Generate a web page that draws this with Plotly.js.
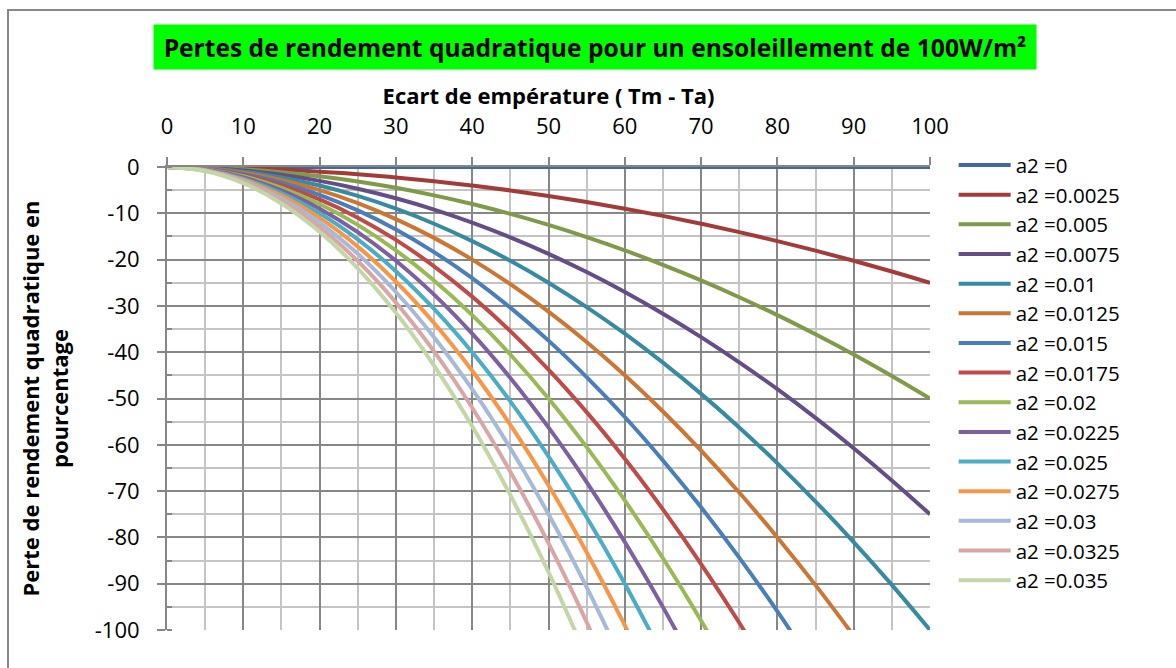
<!DOCTYPE html>
<html>
<head>
<meta charset="utf-8">
<script src="https://cdn.plot.ly/plotly-3.0.1.min.js"></script>
<style>html,body{margin:0;padding:0;background:#fff;}#chart{width:1176px;height:668px;}</style>
</head>
<body>
<div id="chart"></div>
<script>
// Ecart de température (Tm - Ta)
const ecart = [0,5,10,15,20,25,30,35,40,45,50,55,60,65,70,75,80,85,90,95,100];

// Perte de rendement (%) for each a2 value
const a2_0      = [0,0,0,0,0,0,0,0,0,0,0,0,0,0,0,0,0,0,0,0,0];
const a2_0025   = [0,-0.06,-0.25,-0.56,-1,-1.56,-2.25,-3.06,-4,-5.06,-6.25,-7.56,-9,-10.56,-12.25,-14.06,-16,-18.06,-20.25,-22.56,-25];
const a2_005    = [0,-0.13,-0.5,-1.13,-2,-3.13,-4.5,-6.13,-8,-10.13,-12.5,-15.13,-18,-21.13,-24.5,-28.13,-32,-36.13,-40.5,-45.13,-50];
const a2_0075   = [0,-0.19,-0.75,-1.69,-3,-4.69,-6.75,-9.19,-12,-15.19,-18.75,-22.69,-27,-31.69,-36.75,-42.19,-48,-54.19,-60.75,-67.69,-75];
const a2_01     = [0,-0.25,-1,-2.25,-4,-6.25,-9,-12.25,-16,-20.25,-25,-30.25,-36,-42.25,-49,-56.25,-64,-72.25,-81,-90.25,-100];
const a2_0125   = [0,-0.31,-1.25,-2.81,-5,-7.81,-11.25,-15.31,-20,-25.31,-31.25,-37.81,-45,-52.81,-61.25,-70.31,-80,-90.31,-101.25];
const a2_015    = [0,-0.38,-1.5,-3.38,-6,-9.38,-13.5,-18.38,-24,-30.38,-37.5,-45.38,-54,-63.38,-73.5,-84.38,-96,-108.38];
const a2_0175   = [0,-0.44,-1.75,-3.94,-7,-10.94,-15.75,-21.44,-28,-35.44,-43.75,-52.94,-63,-73.94,-85.75,-98.44,-112];
const a2_02     = [0,-0.5,-2,-4.5,-8,-12.5,-18,-24.5,-32,-40.5,-50,-60.5,-72,-84.5,-98,-112.5];
const a2_0225   = [0,-0.56,-2.25,-5.06,-9,-14.06,-20.25,-27.56,-36,-45.56,-56.25,-68.06,-81,-95.06,-110.25];
const a2_025    = [0,-0.63,-2.5,-5.63,-10,-15.63,-22.5,-30.63,-40,-50.63,-62.5,-75.63,-90,-105.63];
const a2_0275   = [0,-0.69,-2.75,-6.19,-11,-17.19,-24.75,-33.69,-44,-55.69,-68.75,-83.19,-99,-116.19];
const a2_03     = [0,-0.75,-3,-6.75,-12,-18.75,-27,-36.75,-48,-60.75,-75,-90.75,-108];
const a2_0325   = [0,-0.81,-3.25,-7.31,-13,-20.31,-29.25,-39.81,-52,-65.81,-81.25,-98.31,-117];
const a2_035    = [0,-0.88,-3.5,-7.88,-14,-21.88,-31.5,-42.88,-56,-70.88,-87.5,-105.88];

const seriesNames = ["a2 =0","a2 =0.0025","a2 =0.005","a2 =0.0075","a2 =0.01","a2 =0.0125","a2 =0.015","a2 =0.0175","a2 =0.02","a2 =0.0225","a2 =0.025","a2 =0.0275","a2 =0.03","a2 =0.0325","a2 =0.035"];
const seriesValues = [a2_0,a2_0025,a2_005,a2_0075,a2_01,a2_0125,a2_015,a2_0175,a2_02,a2_0225,a2_025,a2_0275,a2_03,a2_0325,a2_035];
const colors = ["#3D6AA3","#A33B39","#7F9A48","#654E86","#378BA1","#CC7634","#4A7EBB","#BE4B48","#98B954","#7D60A0","#4BACC6","#F79646","#A5B9D8","#D9A6A5","#C3D6A5"];

// Tick labels
const xTickVals = [0,10,20,30,40,50,60,70,80,90,100];
const xTickText = ["0","10","20","30","40","50","60","70","80","90","100"];
const yTickVals = [0,-10,-20,-30,-40,-50,-60,-70,-80,-90,-100];
const yTickText = ["0","-10","-20","-30","-40","-50","-60","-70","-80","-90","-100"];

const FONT = "'Open Sans', sans-serif";

const traces = seriesNames.map((n,i)=>({
  type:'scatter', mode:'lines', name:n,
  x: ecart.slice(0, seriesValues[i].length), y: seriesValues[i],
  line:{color:colors[i], width:4, shape:'spline'},
  hoverinfo:'x+y+name'
}));

const layout = {
  width:1176, height:668,
  margin:{l:167, r:246, t:167, b:38},
  paper_bgcolor:'#ffffff', plot_bgcolor:'#ffffff',
  font:{family:FONT, size:21, color:'#000'},
  showlegend:true,
  legend:{x:1.031, xanchor:'left', y:1.047, yanchor:'top', maxheight:640,
          font:{family:FONT, size:20.5, color:'#000'}, bgcolor:'rgba(0,0,0,0)', tracegroupgap:0, itemwidth:52},
  xaxis:{
    side:'top', range:[0,100],
    tickmode:'array', tickvals:xTickVals, ticktext:xTickText,
    showgrid:true, gridcolor:'#878787', gridwidth:2,
    showline:true, linecolor:'#878787', linewidth:2,
    ticks:'outside', ticklen:8, tickcolor:'#878787', tickwidth:2,
    ticklabelstandoff:14,
    tickfont:{family:FONT, size:22, color:'#000'},
    minor:{dtick:5, tick0:0, showgrid:true, gridcolor:'#C4C4C4', gridwidth:2},
    zeroline:false, fixedrange:true,
    title:{text:'Ecart de empérature ( Tm - Ta)', font:{family:FONT, size:22, color:'#000', weight:'bold'}, standoff:0}
  },
  yaxis:{
    range:[-100,0],
    tickmode:'array', tickvals:yTickVals, ticktext:yTickText,
    showgrid:true, gridcolor:'#878787', gridwidth:2,
    showline:true, linecolor:'#878787', linewidth:2,
    ticks:'outside', ticklen:8, tickcolor:'#878787', tickwidth:2,
    ticklabelstandoff:13,
    tickfont:{family:FONT, size:22, color:'#000'},
    minor:{dtick:5, tick0:0, showgrid:true, gridcolor:'#C4C4C4', gridwidth:2, ticks:'inside', ticklen:5, tickcolor:'#878787', tickwidth:2},
    zeroline:false, fixedrange:true,
    title:{text:'Perte de rendement quadratique en<br>pourcentage', font:{family:FONT, size:22, color:'#000', weight:'bold'}, standoff:20}
  },
  shapes:[
    {type:'rect', xref:'paper', yref:'paper', x0:(8-167)/763, x1:(1185-167)/763, y0:(630-680)/463, y1:(630-10)/463, line:{color:'#888888', width:2}, fillcolor:'rgba(0,0,0,0)', layer:'below'}
  ],
  annotations:[
    {xref:'paper', yref:'paper', x:(595-167)/763, y:(630-47)/463, xanchor:'center', yanchor:'middle',
     text:'<b>Pertes de rendement quadratique pour un ensoleillement de 100W/m²</b>', showarrow:false,
     font:{family:FONT, size:24.6, color:'#000'}, bgcolor:'#00FF00', width:878, height:40, borderpad:2}
  ]
};

Plotly.newPlot('chart', traces, layout, {displayModeBar:false, staticPlot:true});
</script>
</body>
</html>
